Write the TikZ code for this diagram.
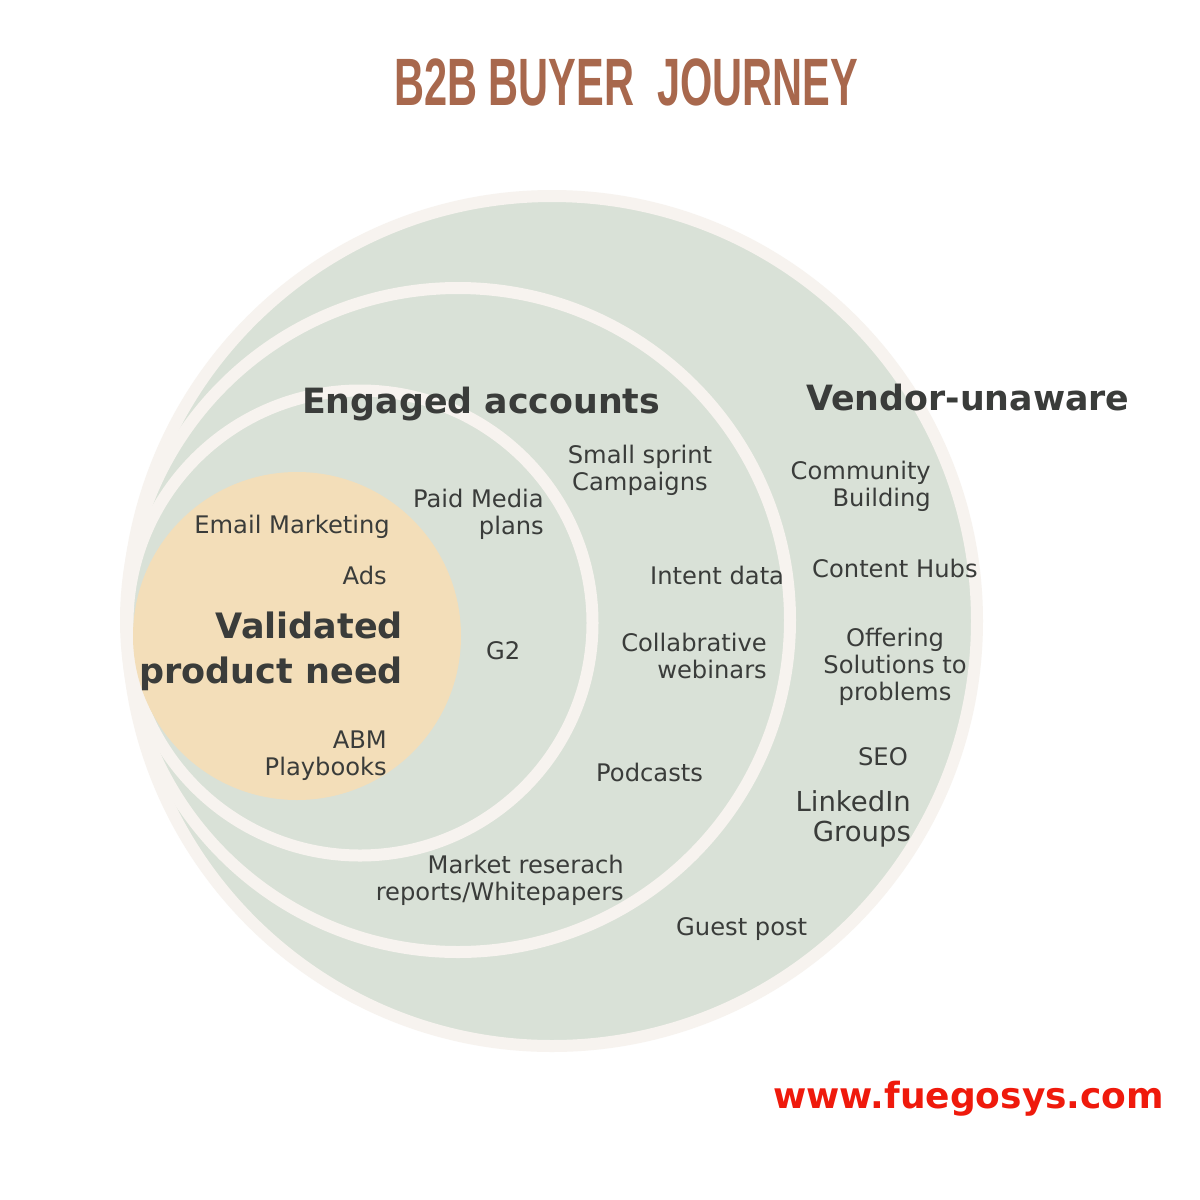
\documentclass[tikz,border=0pt]{standalone}
\usepackage{fontspec}
\setmainfont{DejaVu Sans}
\newfontfamily\titlefont[FakeStretch=0.62]{Liberation Sans}
\definecolor{sage}{HTML}{D9E1D7}
\definecolor{cream}{HTML}{F7F3EF}
\definecolor{peach}{HTML}{F3DEB9}
\definecolor{ink}{HTML}{3A3C3A}
\definecolor{rust}{HTML}{A8684D}
\definecolor{fuego}{HTML}{EF1A0C}

\begin{document}
\begin{tikzpicture}[x=1pt, y=-1pt,
    ring/.style={circle, fill=sage, draw=cream, line width=12pt, inner sep=0pt},
    item/.style={text=ink, inner sep=0pt, font=\fontsize{24.2}{27}\selectfont},
    stage/.style={text=ink, inner sep=0pt, font=\fontsize{34.8}{45}\selectfont\bfseries}]
\fill[white] (0,0) rectangle (1200,1200);
\useasboundingbox (0,0) rectangle (1200,1200);

% rings, outside in
\node[ring, minimum size=850pt] (unaware) at (552,621) {};
\node[ring, minimum size=664pt] (engaged) at (458,620) {};
\node[ring, minimum size=465pt] (inner) at (360,623) {};
\node[circle, fill=peach, inner sep=0pt, minimum size=328pt] (need) at (297,636) {};

% headings (base of a multi-line node = its last line)
\node[text=rust, inner sep=0pt, anchor=base, font=\titlefont\bfseries\fontsize{67}{67}\selectfont] (title) at (626,105) {B2B BUYER\ \ JOURNEY};
\node[stage, anchor=base west] (h1) at (302,413) {Engaged accounts};
\node[stage, anchor=base west] (h2) at (806,410) {Vendor-unaware};
\node[stage, anchor=base east, align=right, font=\fontsize{35}{45}\selectfont\bfseries] (h3) at (403,683) {Validated\\product need};

% inner circle
\node[item, anchor=base east] (email) at (390,533) {Email Marketing};
\node[item, anchor=base east] (ads) at (387,584) {Ads};
\node[item, anchor=base east, align=right] (abm) at (387,775) {ABM\\Playbooks};
\node[item, anchor=base east, align=right] (paid) at (544,534) {Paid Media\\plans};
\node[item, anchor=base west] (g2) at (486,659) {G2};

% middle ring
\node[item, anchor=base, align=center] (sprint) at (640,490) {Small sprint\\Campaigns};
\node[item, anchor=base west] (intent) at (650,584) {Intent data};
\node[item, anchor=base east, align=right] (webinar) at (767,678) {Collabrative\\webinars};
\node[item, anchor=base west] (podcast) at (596,781) {Podcasts};
\node[item, anchor=base east, align=right] (market) at (624,900) {Market reserach\\reports/Whitepapers};

% outer ring
\node[item, anchor=base east, align=right] (community) at (931,506) {Community\\Building};
\node[item, anchor=base west] (hubs) at (812,577) {Content Hubs};
\node[item, anchor=base, align=center] (offer) at (895,700) {Offering\\Solutions to\\problems};
\node[item, anchor=base east] (seo) at (908,765) {SEO};
\node[item, anchor=base east, align=right, font=\fontsize{27.5}{30}\selectfont] (linkedin) at (911,841) {LinkedIn\\Groups};
\node[item, anchor=base west] (guest) at (676,935) {Guest post};

\node[text=fuego, inner sep=0pt, anchor=base west, font=\fontsize{36}{36}\selectfont\bfseries] (url) at (773,1108) {www.fuegosys.com};
\end{tikzpicture}
\end{document}
